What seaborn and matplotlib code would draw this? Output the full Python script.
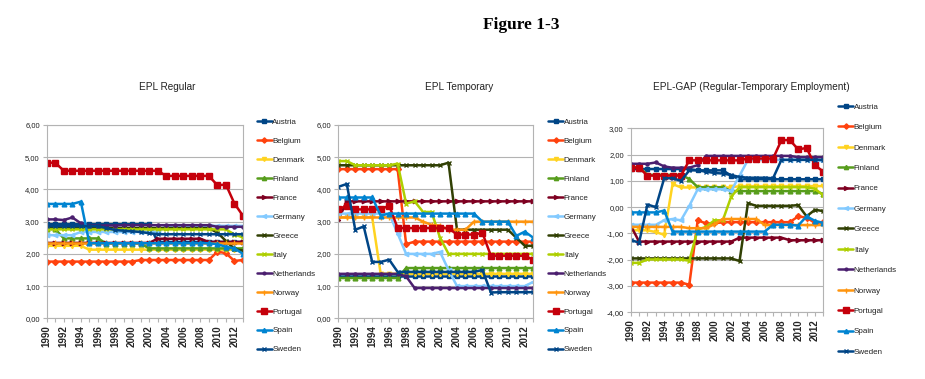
import matplotlib
matplotlib.use("Agg")
import matplotlib.pyplot as plt
import seaborn as sns
import pandas as pd
from matplotlib import font_manager
from matplotlib.ticker import FixedLocator, FuncFormatter

sns.set_theme(style="white")

# find a condensed sans font if one is available
_fonts = font_manager.fontManager.ttflist
NARROW = None
for f in _fonts:
    if f.name == 'Liberation Sans Narrow':
        NARROW = 'Liberation Sans Narrow'
        break
if NARROW is None:
    NARROW = 'Liberation Sans'

plt.rcParams['font.family'] = [NARROW, 'Liberation Sans', 'DejaVu Sans']
NFAM = [NARROW, 'Liberation Sans', 'DejaVu Sans']
NARROW_OK = NARROW == 'Liberation Sans Narrow'

YEARS = list(range(1990, 2014))
COUNTRIES = ['Austria', 'Belgium', 'Denmark', 'Finland', 'France', 'Germany', 'Greece',
             'Italy', 'Netherlands', 'Norway', 'Portugal', 'Spain', 'Sweden']
COLORS = ['#004586', '#ff420e', '#ffd320', '#579d1c', '#7e0021', '#83caff', '#314004',
          '#aecf00', '#4b1f6f', '#ff950e', '#c5000b', '#0084d1', '#004586']
MARKERS = ['s', 'D', 'v', '^', '>', '<', 'x', 'x', 'o', '+', 's', '^', 'x']
MSIZES = [3.2, 3.0, 3.2, 3.4, 3.2, 3.2, 3.4, 3.4, 2.2, 4.0, 4.4, 3.4, 3.4]

# ---------------- EPL Regular ----------------
REG_AUSTRIA = [2.92, 2.92, 2.92, 2.92, 2.92, 2.92, 2.92, 2.92, 2.92, 2.92, 2.92, 2.92, 2.92,
               2.37, 2.37, 2.37, 2.37, 2.37, 2.37, 2.37, 2.37, 2.37, 2.37, 2.37]
REG_BELGIUM = [1.76, 1.76, 1.76, 1.76, 1.76, 1.76, 1.76, 1.76, 1.76, 1.76, 1.76,
               1.81, 1.81, 1.81, 1.81, 1.81, 1.81, 1.81, 1.81, 1.81, 2.07, 2.02, 1.78, 1.81]
REG_DENMARK = [2.25, 2.25, 2.25, 2.25, 2.25, 2.13, 2.13, 2.13, 2.13, 2.13, 2.13, 2.13,
               2.13, 2.13, 2.13, 2.13, 2.13, 2.13, 2.13, 2.13, 2.13, 2.13, 2.13, 2.13]
REG_FINLAND = [2.77, 2.77, 2.48, 2.48, 2.48, 2.48, 2.48, 2.32, 2.32, 2.32, 2.32, 2.32,
               2.17, 2.17, 2.17, 2.17, 2.17, 2.17, 2.17, 2.17, 2.17, 2.17, 2.17, 2.17]
REG_FRANCE = [2.34, 2.34, 2.34, 2.34, 2.34, 2.34, 2.34, 2.34, 2.34, 2.34, 2.34, 2.34, 2.34,
              2.47, 2.47, 2.47, 2.47, 2.47, 2.47, 2.37, 2.37, 2.37, 2.37, 2.37]
REG_GERMANY = [2.58, 2.58, 2.58, 2.58, 2.68, 2.68, 2.68, 2.68, 2.68, 2.68, 2.68, 2.68,
               2.68, 2.68, 2.87, 2.87, 2.87, 2.87, 2.87, 2.87, 2.87, 2.87, 2.87, 2.87]
REG_GREECE = [2.80, 2.80, 2.80, 2.80, 2.80, 2.80, 2.80, 2.80, 2.80, 2.80, 2.80, 2.80,
              2.80, 2.80, 2.80, 2.80, 2.80, 2.80, 2.80, 2.80, 2.66, 2.40, 2.15, 2.10]
REG_ITALY = [2.76, 2.76, 2.76, 2.76, 2.76, 2.76, 2.76, 2.76, 2.76, 2.76, 2.76, 2.76,
             2.76, 2.76, 2.76, 2.76, 2.76, 2.76, 2.76, 2.76, 2.76, 2.76, 2.60, 2.51]
REG_NETHERLANDS = [3.07, 3.07, 3.05, 3.13, 2.95, 2.88, 2.88, 2.88, 2.88, 2.89, 2.89, 2.89,
                   2.89, 2.89, 2.89, 2.89, 2.89, 2.89, 2.89, 2.89, 2.84, 2.84, 2.84, 2.84]
REG_NORWAY = [2.33, 2.33, 2.33, 2.33, 2.33, 2.33, 2.33, 2.33, 2.33, 2.33, 2.33, 2.33,
              2.33, 2.33, 2.33, 2.33, 2.33, 2.33, 2.33, 2.33, 2.33, 2.33, 2.33, 2.33]
REG_PORTUGAL = [4.83, 4.83, 4.58, 4.58, 4.58, 4.58, 4.58, 4.58, 4.58, 4.58, 4.58, 4.58,
                4.58, 4.58, 4.42, 4.42, 4.42, 4.42, 4.42, 4.42, 4.13, 4.15, 3.56, 3.18]
REG_SPAIN = [3.55, 3.55, 3.55, 3.55, 3.62, 2.33, 2.33, 2.33, 2.33, 2.33, 2.33, 2.33,
             2.33, 2.33, 2.33, 2.33, 2.33, 2.33, 2.33, 2.33, 2.30, 2.22, 2.17, 2.00]
REG_SWEDEN = [2.86, 2.86, 2.86, 2.86, 2.86, 2.86, 2.86, 2.80, 2.74, 2.72, 2.70, 2.68,
              2.64, 2.61, 2.61, 2.61, 2.61, 2.61, 2.61, 2.61, 2.61, 2.61, 2.61, 2.61]

# ---------------- EPL Temporary ----------------
TMP_AUSTRIA = [1.31, 1.31, 1.31, 1.31, 1.31, 1.31, 1.31, 1.31, 1.31, 1.31, 1.31, 1.31,
               1.31, 1.31, 1.31, 1.31, 1.31, 1.31, 1.31, 1.31, 1.31, 1.31, 1.31, 1.31]
TMP_BELGIUM = [4.63, 4.63, 4.63, 4.63, 4.63, 4.63, 4.63, 4.63, 2.30, 2.38, 2.38, 2.38,
               2.38, 2.38, 2.38, 2.38, 2.38, 2.38, 2.38, 2.38, 2.38, 2.38, 2.38, 2.38]
TMP_DENMARK = [3.13, 3.13, 3.13, 3.13, 3.13, 1.38, 1.38, 1.38, 1.38, 1.38, 1.38, 1.38,
               1.38, 1.38, 1.38, 1.38, 1.38, 1.38, 1.38, 1.38, 1.38, 1.38, 1.38, 1.38]
TMP_FINLAND = [1.25, 1.25, 1.25, 1.25, 1.25, 1.25, 1.25, 1.25, 1.56, 1.56, 1.56, 1.56,
               1.56, 1.56, 1.56, 1.56, 1.56, 1.56, 1.56, 1.56, 1.56, 1.56, 1.56, 1.56]
TMP_FRANCE = [3.06, 3.63, 3.63, 3.63, 3.63, 3.63, 3.63, 3.63, 3.63, 3.63, 3.63, 3.63,
              3.63, 3.63, 3.63, 3.63, 3.63, 3.63, 3.63, 3.63, 3.63, 3.63, 3.63, 3.63]
TMP_GERMANY = [3.25, 3.25, 3.25, 3.25, 3.25, 3.25, 3.25, 2.63, 2.00, 2.00, 2.00, 2.00,
               2.06, 1.50, 1.00, 1.00, 1.00, 1.00, 1.00, 1.00, 1.00, 1.00, 1.00, 1.13]
TMP_GREECE = [4.75, 4.75, 4.75, 4.75, 4.75, 4.75, 4.75, 4.75, 4.75, 4.75, 4.75, 4.75,
              4.75, 4.83, 2.75, 2.75, 2.75, 2.75, 2.75, 2.75, 2.75, 2.50, 2.25, 2.25]
TMP_ITALY = [4.88, 4.88, 4.75, 4.75, 4.75, 4.75, 4.75, 4.80, 3.56, 3.63, 3.30, 3.30,
             2.50, 2.00, 2.00, 2.00, 2.00, 2.00, 2.00, 2.00, 2.00, 2.00, 2.00, 2.00]
TMP_NETHERLANDS = [1.38, 1.38, 1.38, 1.38, 1.38, 1.38, 1.38, 1.38, 1.30, 0.94, 0.94, 0.94,
                   0.94, 0.94, 0.94, 0.94, 0.94, 0.94, 0.94, 0.94, 0.94, 0.94, 0.94, 0.94]
TMP_NORWAY = [3.13, 3.13, 3.13, 3.13, 3.13, 3.13, 3.13, 3.13, 3.13, 3.13, 3.00, 2.90,
              2.88, 2.75, 2.75, 2.75, 3.00, 3.00, 3.00, 3.00, 3.00, 3.00, 3.00, 3.00]
TMP_PORTUGAL = [3.38, 3.50, 3.38, 3.38, 3.38, 3.38, 3.50, 2.80, 2.80, 2.80, 2.80, 2.80,
                2.80, 2.80, 2.60, 2.60, 2.60, 2.65, 1.94, 1.94, 1.94, 1.94, 1.94, 1.81]
TMP_SPAIN = [3.75, 3.75, 3.75, 3.75, 3.75, 3.19, 3.25, 3.25, 3.25, 3.25, 3.25, 3.25,
             3.25, 3.25, 3.25, 3.25, 3.25, 3.00, 3.00, 3.00, 3.00, 2.56, 2.69, 2.50]
TMP_SWEDEN = [4.08, 4.17, 2.75, 2.85, 1.75, 1.75, 1.82, 1.44, 1.44, 1.44, 1.44, 1.44,
              1.44, 1.44, 1.44, 1.44, 1.44, 1.50, 0.80, 0.81, 0.81, 0.81, 0.81, 0.81]

# ---------------- EPL-GAP ----------------
GAP_AUSTRIA = [1.45, 1.45, 1.45, 1.45, 1.45, 1.45, 1.45, 1.45, 1.40, 1.40, 1.40, 1.40,
               1.20, 1.06, 1.06, 1.06, 1.06, 1.06, 1.06, 1.06, 1.06, 1.06, 1.06, 1.06]
GAP_BELGIUM = [-2.87, -2.87, -2.87, -2.87, -2.87, -2.87, -2.87, -2.95, -0.50, -0.62, -0.62, -0.57,
               -0.57, -0.57, -0.57, -0.57, -0.57, -0.57, -0.57, -0.57, -0.35, -0.40, -0.60, -0.57]
GAP_DENMARK = [-0.88, -0.88, -0.88, -0.95, -1.05, 0.88, 0.75, 0.75, 0.75, 0.75, 0.75, 0.75,
               0.75, 0.80, 0.80, 0.80, 0.80, 0.80, 0.80, 0.80, 0.80, 0.80, 0.80, 0.80]
GAP_FINLAND = [1.52, 1.52, 1.23, 1.23, 1.23, 1.23, 1.23, 1.07, 0.76, 0.76, 0.76, 0.76,
               0.61, 0.61, 0.61, 0.61, 0.61, 0.61, 0.61, 0.61, 0.61, 0.61, 0.61, 0.50]
GAP_FRANCE = [-0.70, -1.31, -1.31, -1.31, -1.31, -1.31, -1.31, -1.31, -1.31, -1.31, -1.31, -1.31,
              -1.31, -1.16, -1.16, -1.16, -1.16, -1.16, -1.16, -1.26, -1.26, -1.26, -1.26, -1.26]
GAP_GERMANY = [-0.67, -0.67, -0.67, -0.67, -0.50, -0.45, -0.50, 0.05, 0.68, 0.68, 0.68, 0.68,
               0.62, 1.20, 1.80, 1.80, 1.80, 1.80, 1.80, 1.80, 1.80, 1.80, 1.80, 1.74]
GAP_GREECE = [-1.95, -1.95, -1.95, -1.95, -1.95, -1.95, -1.95, -1.95, -1.95, -1.95, -1.95, -1.95,
              -1.95, -2.05, 0.15, 0.05, 0.05, 0.05, 0.05, 0.05, 0.08, -0.35, -0.10, -0.15]
GAP_ITALY = [-2.12, -2.12, -1.99, -1.99, -1.99, -1.99, -1.99, -2.04, -0.85, -0.75, -0.50, -0.50,
             0.40, 0.76, 0.76, 0.76, 0.76, 0.76, 0.76, 0.76, 0.76, 0.76, 0.70, 0.45]
GAP_NETHERLANDS = [1.65, 1.65, 1.65, 1.70, 1.55, 1.50, 1.50, 1.50, 1.60, 1.95, 1.95, 1.95,
                   1.95, 1.95, 1.95, 1.95, 1.95, 1.95, 1.95, 1.95, 1.90, 1.90, 1.90, 1.90]
GAP_NORWAY = [-0.75, -0.75, -0.75, -0.75, -0.75, -0.75, -0.75, -0.80, -0.80, -0.80, -0.65, -0.45,
              -0.45, -0.45, -0.45, -0.45, -0.68, -0.68, -0.68, -0.68, -0.68, -0.68, -0.68, -0.68]
GAP_PORTUGAL = [1.50, 1.50, 1.20, 1.20, 1.20, 1.20, 1.20, 1.78, 1.78, 1.78, 1.78, 1.78,
                1.78, 1.78, 1.85, 1.85, 1.85, 1.85, 2.55, 2.55, 2.20, 2.25, 1.60, 1.35]
GAP_SPAIN = [-0.20, -0.20, -0.20, -0.20, -0.13, -0.93, -0.93, -0.93, -0.93, -0.93, -0.93, -0.93,
             -0.93, -0.93, -0.93, -0.93, -0.93, -0.67, -0.67, -0.67, -0.70, -0.35, -0.52, -0.60]
GAP_SWEDEN = [-1.25, -1.35, 0.10, 0.00, 1.10, 1.10, 1.00, 1.40, 1.40, 1.35, 1.30, 1.28,
              1.22, 1.15, 1.12, 1.12, 1.12, 1.10, 1.80, 1.80, 1.80, 1.80, 1.80, 1.80]

REG = [REG_AUSTRIA, REG_BELGIUM, REG_DENMARK, REG_FINLAND, REG_FRANCE, REG_GERMANY, REG_GREECE,
       REG_ITALY, REG_NETHERLANDS, REG_NORWAY, REG_PORTUGAL, REG_SPAIN, REG_SWEDEN]
TMP = [TMP_AUSTRIA, TMP_BELGIUM, TMP_DENMARK, TMP_FINLAND, TMP_FRANCE, TMP_GERMANY, TMP_GREECE,
       TMP_ITALY, TMP_NETHERLANDS, TMP_NORWAY, TMP_PORTUGAL, TMP_SPAIN, TMP_SWEDEN]
GAP = [GAP_AUSTRIA, GAP_BELGIUM, GAP_DENMARK, GAP_FINLAND, GAP_FRANCE, GAP_GERMANY, GAP_GREECE,
       GAP_ITALY, GAP_NETHERLANDS, GAP_NORWAY, GAP_PORTUGAL, GAP_SPAIN, GAP_SWEDEN]


def long_frame(series_list):
    rows = []
    for country, vals in zip(COUNTRIES, series_list):
        for y, v in zip(YEARS, vals):
            rows.append({'year': y, 'value': v, 'country': country})
    return pd.DataFrame(rows)


W, H = 925, 379
fig = plt.figure(figsize=(W / 100, H / 100), dpi=100)
fig.patch.set_facecolor('white')
RENDERER = fig.canvas.get_renderer()


def measure(s, size, **kw):
    t = fig.text(0, 0, s, fontsize=size, **kw)
    bb = t.get_window_extent(RENDERER)
    t.remove()
    return bb.width, bb.height


if NARROW_OK:
    LEG_FS, YT_FS, TT_FS = 6.7, 6.4, 8.0
else:
    LEG_FS, YT_FS, TT_FS = 5.8, 5.5, 7.2
XT_FS = 7.0
LEG_H = measure('Austria', LEG_FS, family=NFAM)[1]
LEG_FPX = LEG_FS * 100 / 72.0

GRID = '#b3b3b3'


def px_axes(x0, x1, ytop, ybot):
    return fig.add_axes([x0 / W, 1 - ybot / H, (x1 - x0) / W, (ybot - ytop) / H])


def draw(ax, series, ylim, yticks, legend_x, first_center, pitch):
    df = long_frame(series)
    sns.lineplot(data=df, x='year', y='value', hue='country', hue_order=COUNTRIES,
                 palette=COLORS, linewidth=1.8, legend=False, errorbar=None,
                 ax=ax, sort=True)
    lines = ax.lines[:len(COUNTRIES)]
    for ln, m, c, ms in zip(lines, MARKERS, COLORS, MSIZES):
        ln.set_marker(m)
        ln.set_markersize(ms)
        ln.set_markeredgecolor(c)
        ln.set_markerfacecolor(c)
        ln.set_markeredgewidth(1.0)
        ln.set_solid_joinstyle('round')
    ax.set_xlim(1990, 2013)
    ax.set_ylim(*ylim)
    ax.set_facecolor('white')
    ax.yaxis.set_major_locator(FixedLocator(yticks))
    ax.yaxis.set_major_formatter(FuncFormatter(lambda v, p: f"{v:.2f}".replace('.', ',')))
    ax.xaxis.set_major_locator(FixedLocator(list(range(1990, 2013, 2))))
    ax.xaxis.set_minor_locator(FixedLocator(YEARS))
    ax.xaxis.set_major_formatter(FuncFormatter(lambda v, p: f"{int(v)}"))
    ax.grid(axis='y', color=GRID, linewidth=0.8)
    ax.grid(axis='x', visible=False)
    ax.set_axisbelow(True)
    for s in ax.spines.values():
        s.set_color(GRID)
        s.set_linewidth(0.8)
    ax.tick_params(axis='y', which='major', length=3, width=0.8, color=GRID, pad=2.0,
                   labelsize=YT_FS, left=True, labelcolor='#222222')
    ax.tick_params(axis='x', which='both', length=3, width=0.8, color=GRID, pad=2,
                   bottom=True)
    for lab in ax.get_xticklabels():
        lab.set_rotation(90)
        lab.set_fontsize(XT_FS)
        lab.set_family(['Liberation Sans', 'DejaVu Sans'])
        lab.set_fontweight('bold')
    ax.set_xlabel('')
    ax.set_ylabel('')
    spacing = (pitch - LEG_H) / LEG_FPX
    top = first_center - LEG_H / 2.0
    leg = ax.legend(handles=lines, labels=COUNTRIES, loc='upper left',
                    bbox_to_anchor=(legend_x / W, 1 - top / H),
                    bbox_transform=fig.transFigure, frameon=False,
                    prop={'size': LEG_FS, 'family': NFAM},
                    handlelength=15.0 / LEG_FPX, handletextpad=0.1, labelspacing=spacing,
                    borderpad=0, borderaxespad=0, markerscale=0.9, numpoints=1)
    for t in leg.get_texts():
        t.set_color('#222222')
    return leg


ax1 = px_axes(46.7, 243.0, 125.0, 318.3)
draw(ax1, REG, (0, 6), [0, 1, 2, 3, 4, 5, 6], 256.5, 122.0, 18.3)

ax2 = px_axes(338.3, 533.3, 125.0, 318.3)
draw(ax2, TMP, (0, 6), [0, 1, 2, 3, 4, 5, 6], 548.0, 122.0, 18.3)

ax3 = px_axes(630.7, 823.3, 128.3, 312.3)
draw(ax3, GAP, (-4, 3), [-4, -3, -2, -1, 0, 1, 2, 3], 838.0, 106.5, 19.8)

title_kw = dict(ha='center', va='center', fontsize=TT_FS, color='#222222', family=NFAM)
fig.text(167.5 / W, 1 - 86.7 / H, 'EPL Regular', **title_kw)
fig.text(459.0 / W, 1 - 86.7 / H, 'EPL Temporary', **title_kw)
fig.text(751.5 / W, 1 - 86.7 / H, 'EPL-GAP (Regular-Temporary Employment)', **title_kw)

fig.text(521 / W, 1 - 25 / H, 'Figure 1-3', ha='center', va='center', fontsize=12.5,
         fontweight='bold', family=['Liberation Serif', 'DejaVu Serif'], color='black')

fig.savefig('out.png', dpi=100, facecolor='white')
